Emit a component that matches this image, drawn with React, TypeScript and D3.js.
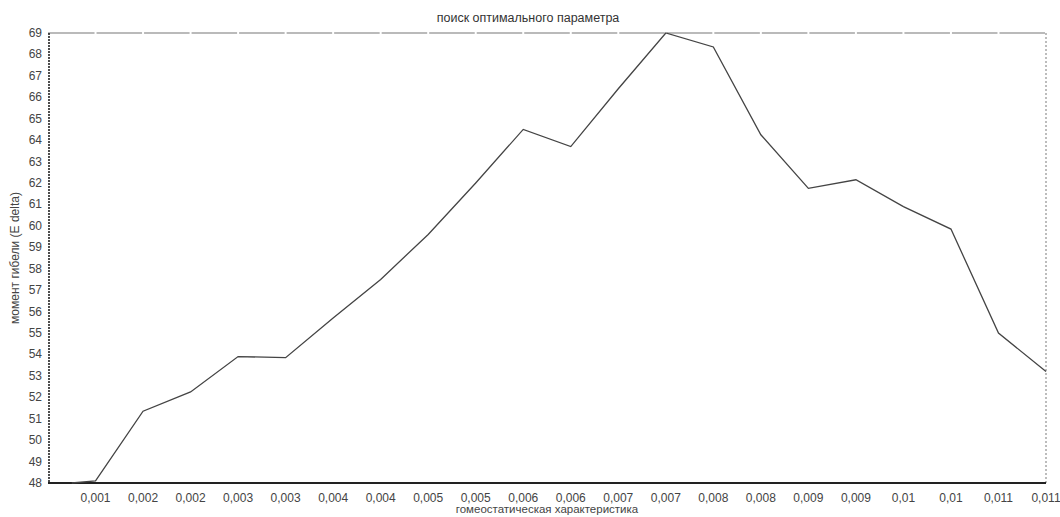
import React from "react";
import * as d3 from "d3";

// tick index positions (x in units of 0.0005 starting at 0.0005)
const tickLabels = [
  "0,001", "0,002", "0,002", "0,003", "0,003", "0,004", "0,004", "0,005", "0,005", "0,006", "0,006",
  "0,007", "0,007", "0,008", "0,008", "0,009", "0,009", "0,01", "0,01", "0,011", "0,011",
];
const tickValues = [
  0.001, 0.0015, 0.002, 0.0025, 0.003, 0.0035, 0.004, 0.0045, 0.005, 0.0055, 0.006,
  0.0065, 0.007, 0.0075, 0.008, 0.0085, 0.009, 0.0095, 0.01, 0.0105, 0.011,
];
const paramX = [
  0.00075, 0.001, 0.0015, 0.002, 0.0025, 0.003, 0.0035, 0.004, 0.0045, 0.005, 0.0055,
  0.006, 0.0065, 0.007, 0.0075, 0.008, 0.0085, 0.009, 0.0095, 0.01, 0.0105, 0.011,
];
const deathMoment = [
  48.0, 48.1, 51.35, 52.25, 53.9, 53.85, 55.7, 57.5, 59.6, 62.0, 64.5,
  63.7, 66.4, 69.0, 68.35, 64.25, 61.75, 62.15, 60.9, 59.85, 55.0, 53.2,
];
const yTicks = d3.range(48, 70, 1);

const W = 1060;
const H = 517;
const left = 48;
const right = 1046;
const top = 33;
const bottom = 483;

export default function App() {
  const x = d3.scaleLinear().domain([0.0005, 0.011]).range([left, right]);
  const y = d3.scaleLinear().domain([48, 69]).range([bottom, top]);
  const line = d3
    .line<number>()
    .x((_, i) => x(paramX[i]))
    .y((d) => y(d));
  const font = "'Liberation Sans', Arial, sans-serif";

  return (
    <svg
      width={W}
      height={H}
      style={{ position: "absolute", left: 0, top: 0, background: "#fff" }}
      fontFamily={font}
    >
      <text x={528} y={22} textAnchor="middle" fontSize={12.5} fill="#333">
        поиск оптимального параметра
      </text>
      {/* top border with gaps at ticks */}
      <line x1={left} x2={right} y1={top} y2={top} stroke="#777" strokeWidth={1.2} />
      {tickValues.map((t, i) => (
        <line key={"g" + i} x1={x(t) - 1} x2={x(t) + 1} y1={top} y2={top} stroke="#fff" strokeWidth={2} />
      ))}
      {/* right border dotted */}
      <line x1={right} x2={right} y1={top} y2={bottom} stroke="#999" strokeWidth={1.3} strokeDasharray="2,2" />
      {/* left axis dotted */}
      <line x1={left + 1} x2={left + 1} y1={top} y2={bottom} stroke="#222" strokeWidth={1.6} strokeDasharray="2,1" />
      {/* bottom axis */}
      <line x1={left} x2={right} y1={bottom} y2={bottom} stroke="#222" strokeWidth={2} />

      {yTicks.map((v) => (
        <text key={"y" + v} x={42} y={y(v) + 4} textAnchor="end" fontSize={12} fill="#444">
          {v}
        </text>
      ))}
      {tickValues.map((t, i) => (
        <text key={"x" + i} x={x(t)} y={502} textAnchor="middle" fontSize={12} fill="#444">
          {tickLabels[i]}
        </text>
      ))}

      <path d={line(deathMoment) || ""} fill="none" stroke="#444" strokeWidth={1.3} />

      <text
        transform={`translate(19,${(top + bottom) / 2}) rotate(-90)`}
        textAnchor="middle"
        fontSize={12}
        fill="#444"
      >
        момент гибели (E delta)
      </text>
      <text x={547} y={513} textAnchor="middle" fontSize={11.5} fill="#444">
        гомеостатическая характеристика
      </text>
    </svg>
  );
}
